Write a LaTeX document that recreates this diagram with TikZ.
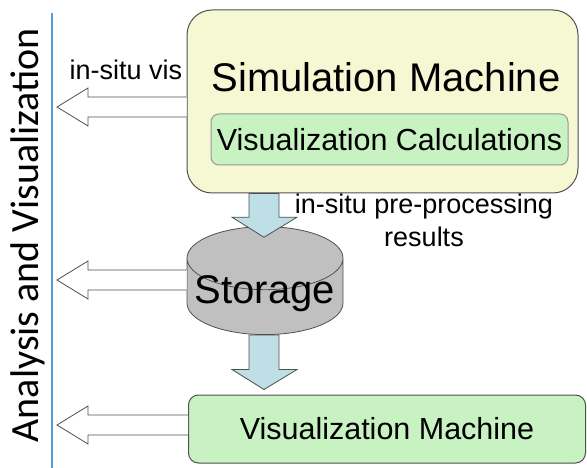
\documentclass[tikz,border=0pt]{standalone}
\usepackage{fontspec}
\setmainfont{Liberation Sans}
\newfontfamily\calibrifont{Carlito}
\usetikzlibrary{shapes.geometric,calc}
\definecolor{simyellow}{HTML}{F6F8D3}
\definecolor{calcgreen}{HTML}{C8F2C2}
\definecolor{flowblue}{HTML}{BEDFE5}
\definecolor{storegray}{HTML}{C0C0C0}
\definecolor{axisblue}{HTML}{5B9BD5}
\definecolor{edgegray}{HTML}{505050}

\begin{document}
\begin{tikzpicture}[x=1pt, y=-1pt,
        box/.style={rectangle,rounded corners=10pt,draw=edgegray,line width=1pt,
          inner sep=0pt,text=black},
        bigtxt/.style={font=\fontsize{40}{41}\selectfont},
        midtxt/.style={font=\fontsize{30.5}{31}\selectfont},
        smalltxt/.style={font=\fontsize{27}{33}\selectfont},
        hollow/.style={draw=edgegray,line width=0.8pt,fill=white},
        flow/.style={draw=edgegray,line width=0.8pt,fill=flowblue}]

        \useasboundingbox (0,0) rectangle (587,468);

        % axis on the left
        \coordinate (axtop) at (52,13);
        \coordinate (axbot) at (52,468);
        \draw [axisblue,line width=2.2pt] (axtop) -- (axbot);
        \node [rotate=90,anchor=base,font=\calibrifont\fontsize{40}{40}\selectfont]
              (axlabel) at (38,235) {Analysis and Visualization};

        % machines and storage
        \node [box,rounded corners=25pt,fill=simyellow,minimum width=391,
               minimum height=183] (sim) at (382.5,101.5) {};
        \node [bigtxt,anchor=base] (simtitle) at (386,92) {Simulation Machine};
        \node [box,rounded corners=8pt,draw=edgegray!60,fill=calcgreen,
               minimum width=357,minimum height=51,midtxt] (calc) at (389.5,139.5)
              {Visualization Calculations};
        \node [cylinder,shape border rotate=90,draw=edgegray,line width=0.8pt,
               fill=storegray,aspect=0.45,minimum width=156,minimum height=104,
               inner sep=0pt,bigtxt,text height=13pt,text depth=0pt,
               anchor=south] (store) at (265,335) {Storage};
        \node [box,fill=calcgreen,minimum width=397,minimum height=68,midtxt]
              (vism) at (387,429) {Visualization Machine};

        \node [smalltxt,anchor=base] (vislabel) at (126,80) {in-situ vis};
        \node [smalltxt,align=center,anchor=base] (prelabel) at (424,247)
              {in-situ pre-processing\\results};

        % flows down
        \coordinate (tip1) at ($(264,0 |- store.north)+(0,11)$);
        \coordinate (tip2) at ($(264,0 |- vism.north)+(0,-5)$);
        \foreach \from/\tip in {sim/tip1, store/tip2}
          \draw [flow] (249,0 |- \from.south) -- ($(\tip)+(-15,-20)$)
            -- ($(\tip)+(-32,-20)$) -- (\tip) -- ($(\tip)+(33,-20)$)
            -- ($(\tip)+(15,-20)$) -- (279,0 |- \from.south) -- cycle;

        % results to the axis
        \foreach \src/\yy in {sim/107, store/280, vism/425}
          \draw [hollow] (\src.west |- 0,\yy-10) -- (88,\yy-10) -- (88,\yy-19)
            -- ([xshift=5pt]axtop |- 0,\yy) -- (88,\yy+19) -- (88,\yy+10)
            -- (\src.west |- 0,\yy+10);
\end{tikzpicture}
\end{document}
